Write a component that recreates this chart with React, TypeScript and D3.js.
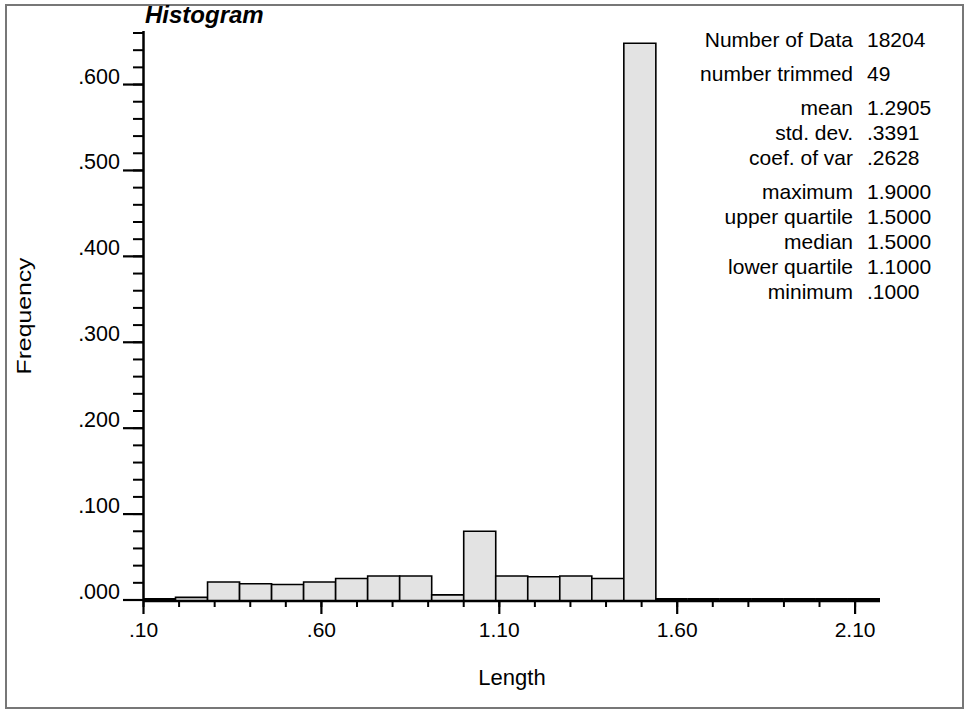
import * as d3 from "d3";

// histogram bins (lower/upper edges) and relative frequencies
const binEdges = [
  0.1, 0.19, 0.28, 0.37, 0.46, 0.55, 0.64, 0.73, 0.82, 0.91, 1.0, 1.09,
  1.18, 1.27, 1.36, 1.45, 1.54, 1.63, 1.72, 1.81, 1.9, 1.99, 2.08, 2.17,
];
const frequencies = [
  0.0015, 0.003, 0.021, 0.019, 0.018, 0.021, 0.025, 0.028, 0.028, 0.006,
  0.08, 0.028, 0.027, 0.028, 0.025, 0.648, 0, 0, 0, 0, 0, 0, 0,
];

const xTickValues = [0.1, 0.6, 1.1, 1.6, 2.1];
const yTickValues = [0, 0.1, 0.2, 0.3, 0.4, 0.5, 0.6];

const statLabels = [
  "Number of Data",
  "number trimmed",
  "mean",
  "std. dev.",
  "coef. of var",
  "maximum",
  "upper quartile",
  "median",
  "lower quartile",
  "minimum",
];
const statValues = [
  "18204", "49", "1.2905", ".3391", ".2628",
  "1.9000", "1.5000", "1.5000", "1.1000", ".1000",
];
const statGroups = [0, 1, 2, 2, 2, 3, 3, 3, 3, 3];

const W = 968;
const H = 711;
const FONT = "'Liberation Sans', Arial, sans-serif";

const fmt = (d: number, p: number) =>
  d3.format(`.${p}f`)(d).replace(/^0\./, ".");

export default function App() {
  const x = d3.scaleLinear().domain([0.1, 2.17]).range([143.5, 880]);
  const y = d3.scaleLinear().domain([0, 0.66]).range([600, 33]);

  const xMinor = d3.range(1, 22).map((i) => i / 10);
  const yMinor = d3.range(0, 34).map((i) => i * 0.02);

  const bins = frequencies.map((f, i) => ({
    x0: binEdges[i],
    x1: binEdges[i + 1],
    f,
  }));

  return (
    <svg
      width={W}
      height={H}
      style={{ position: "absolute", left: 0, top: 0, background: "#fff" }}
      fontFamily={FONT}
    >
      <rect x={6} y={5} width={957} height={703} fill="#fff" stroke="#777" strokeWidth={2} />

      {/* bars */}
      {bins.map((b, i) => {
        const x0 = x(b.x0);
        const x1 = x(b.x1);
        const y0 = y(0);
        if (b.f <= 0.002) {
          // empty / near-empty bins collapse onto the baseline as a heavy line
          return (
            <line key={i} x1={x0} x2={x1} y1={y0 - 1} y2={y0 - 1} stroke="#000" strokeWidth={2.2} />
          );
        }
        const yt = y(b.f);
        return (
          <g key={i}>
            <rect x={x0} y={yt} width={x1 - x0} height={y0 - yt} fill="#e3e3e3" />
            <path
              d={`M${x0},${y0}V${yt}H${x1}V${y0}`}
              fill="none"
              stroke="#000"
              strokeWidth={1.6}
            />
          </g>
        );
      })}

      {/* x axis */}
      <line x1={x(0.1)} x2={x(2.17)} y1={601} y2={601} stroke="#000" strokeWidth={2.5} />
      {xMinor.map((t, i) => (
        <line key={i} x1={x(t)} x2={x(t)} y1={601} y2={607} stroke="#000" strokeWidth={2} />
      ))}
      {xTickValues.map((t, i) => (
        <g key={i}>
          <line x1={x(t)} x2={x(t)} y1={601} y2={614} stroke="#000" strokeWidth={2.2} />
          <text x={x(t)} y={637} textAnchor="middle" fontSize={21} fill="#000">
            {fmt(t, 2)}
          </text>
        </g>
      ))}
      <text x={512} y={685} textAnchor="middle" fontSize={22} fill="#000">
        Length
      </text>

      {/* y axis */}
      <line x1={143.5} x2={143.5} y1={31} y2={601} stroke="#000" strokeWidth={2.5} />
      {yMinor.map((t, i) => (
        <line key={i} x1={133} x2={143.5} y1={y(t)} y2={y(t)} stroke="#000" strokeWidth={2} />
      ))}
      {yTickValues.map((t, i) => (
        <g key={i}>
          <line x1={123} x2={143.5} y1={y(t)} y2={y(t)} stroke="#000" strokeWidth={2.2} />
          <text x={120} y={y(t) - 1} textAnchor="end" fontSize={21.5} fill="#000">
            {fmt(t, 3)}
          </text>
        </g>
      ))}
      <text
        transform={`translate(31,316) rotate(-90)`}
        textAnchor="middle"
        fontSize={20}
        textLength={117}
        lengthAdjust="spacingAndGlyphs"
        fill="#000"
      >
        Frequency
      </text>

      {/* title */}
      <text x={145} y={23} fontSize={24} fontWeight="bold" fontStyle="italic" fill="#000">
        Histogram
      </text>

      {/* statistics */}
      {statLabels.map((s, i) => {
        const yy = 47 + 25 * i + 9 * statGroups[i];
        return (
          <g key={i} fontSize={21} fill="#000">
            <text x={853} y={yy} textAnchor="end">{s}</text>
            <text x={867} y={yy}>{statValues[i]}</text>
          </g>
        );
      })}
    </svg>
  );
}
